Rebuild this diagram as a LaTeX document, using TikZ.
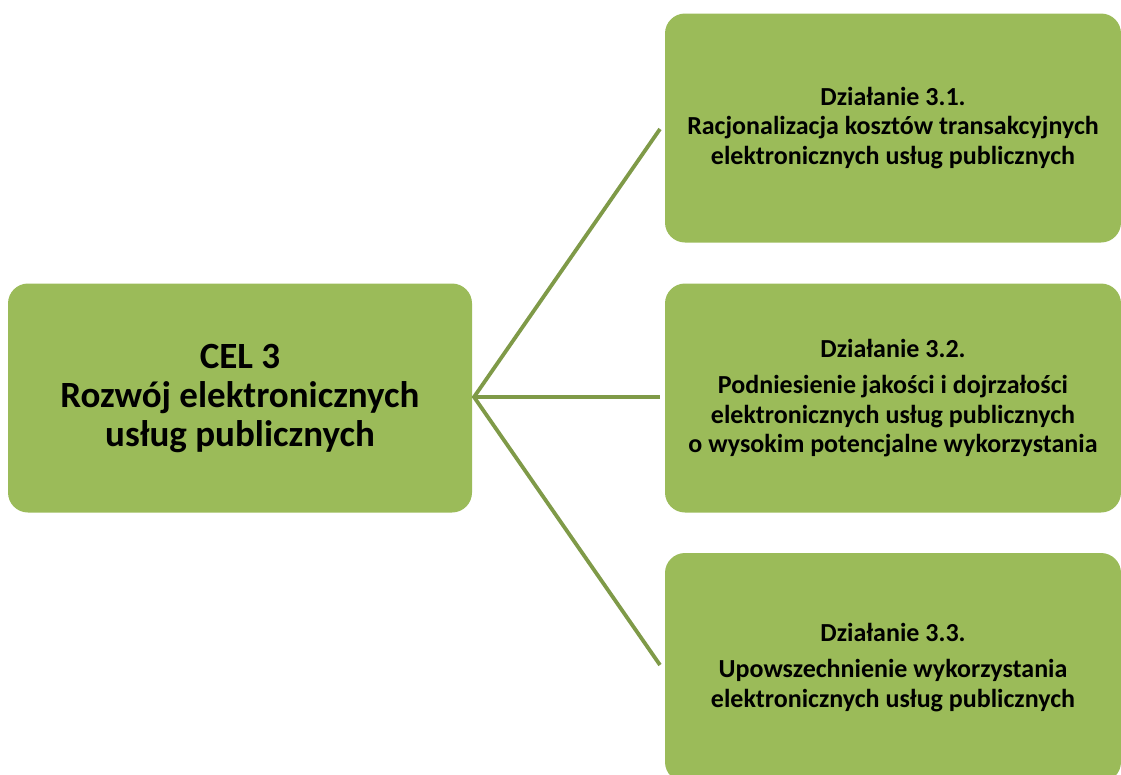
\documentclass[tikz,border=0pt]{standalone}
\usepackage{fontspec}
\setmainfont{Carlito}
\definecolor{boxgreen}{HTML}{9BBB59}
\definecolor{linegreen}{HTML}{7F9A48}
\begin{document}
\begin{tikzpicture}[x=1pt,y=-1pt,
  gbox/.style={fill=boxgreen,draw=none,rounded corners=20pt,minimum width=456pt,minimum height=229pt,inner sep=0pt,align=center,font=\bfseries\fontsize{26}{29.5}\selectfont},
  link/.style={draw=linegreen,line width=3.8pt}]
\clip (0,0) rectangle (1121,774);
\node[gbox,minimum width=464pt,font=\bfseries\fontsize{37}{39}\selectfont] (cel) at (240,398) {CEL 3\\Rozwój elektronicznych\\usług publicznych};
\node[gbox] (d1) at (893,128) {Działanie 3.1.\\Racjonalizacja kosztów transakcyjnych\\elektronicznych usług publicznych};
\node[gbox] (d2) at (893,398) {Działanie 3.2.\\[7pt]Podniesienie jakości i dojrzałości\\elektronicznych usług publicznych\\o wysokim potencjalne wykorzystania};
\node[gbox] (d3) at (893,667.5) {Działanie 3.3.\\[7pt]Upowszechnienie wykorzystania\\elektronicznych usług publicznych};
\coordinate (hub) at (474,397);
\coordinate (e1) at (660,129);
\coordinate (e2) at (660,397);
\coordinate (e3) at (660,665);
\draw[link] (e1) -- (hub) -- (e3);
\draw[link] (hub) -- (e2);
\end{tikzpicture}
\end{document}
